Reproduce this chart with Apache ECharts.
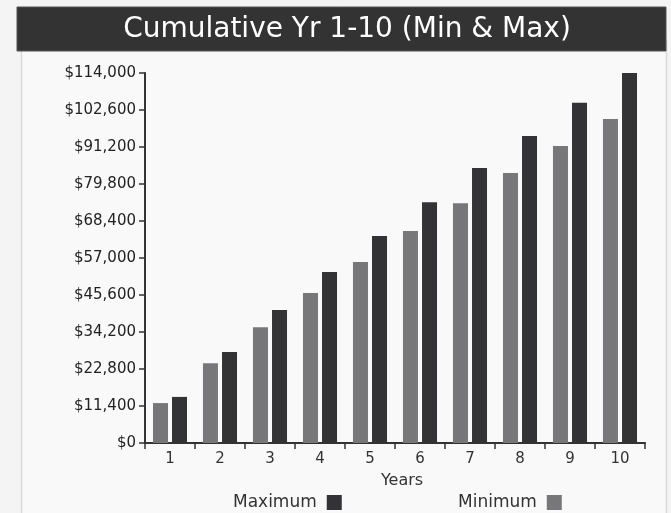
<!DOCTYPE html>
<html>
<head>
<meta charset="utf-8">
<script src="https://cdn.jsdelivr.net/npm/echarts@6/dist/echarts.min.js"></script>
<style>
  html, body { margin: 0; padding: 0; background: #f4f4f4; }
  #chart { width: 671px; height: 513px; }
</style>
</head>
<body>
<div id="chart"></div>
<script>
// Cumulative earnings per year, lower and upper bound
const years = ['1', '2', '3', '4', '5', '6', '7', '8', '9', '10'];
const minimumValues = [12300, 24600, 35700, 46200, 55800, 65300, 73900, 83200, 91500, 99800];
const maximumValues = [14200, 28000, 41000, 52700, 63800, 74200, 84700, 94600, 104800, 114000];
const yTickValues = [0, 11400, 22800, 34200, 45600, 57000, 68400, 79800, 91200, 102600, 114000];

const FONT = 'DejaVu Sans';
const money = v => '$' + v.toLocaleString('en-US');

const chart = echarts.init(document.getElementById('chart'), null, { renderer: 'canvas' });

const legendText = { fontSize: 17, color: '#333', fontFamily: FONT, padding: [0, 5, 0, 0] };

chart.setOption({
  backgroundColor: '#f4f4f4',
  animation: false,
  textStyle: { fontFamily: FONT },
  graphic: [
    { type: 'rect', shape: { x: 21.5, y: 40, width: 645, height: 480 },
      style: { fill: '#f9f9f9', stroke: '#dadada', lineWidth: 1.5 }, z: -10 },
    { type: 'rect', shape: { x: 17, y: 7, width: 649, height: 44 },
      style: { fill: '#333333', stroke: '#555', lineWidth: 1 }, z: -5 }
  ],
  title: {
    text: 'Cumulative Yr 1-10 (Min & Max)',
    left: 342, top: 11, textAlign: 'center',
    textStyle: { color: '#ffffff', fontSize: 28, fontWeight: 'normal', fontFamily: FONT }
  },
  legend: [
    { data: ['Maximum'], left: 228, top: 489, align: 'right', itemWidth: 15, itemHeight: 15,
      icon: 'rect', textStyle: legendText },
    { data: ['Minimum'], left: 453, top: 489, align: 'right', itemWidth: 15, itemHeight: 15,
      icon: 'rect', textStyle: legendText }
  ],
  grid: { left: 145, right: 26, top: 73, bottom: 70, containLabel: false },
  xAxis: {
    type: 'category',
    data: years,
    name: 'Years',
    nameLocation: 'middle',
    nameGap: 30,
    nameTextStyle: { fontSize: 16, color: '#333', fontFamily: FONT, padding: [0, 0, 0, 14] },
    axisLine: { lineStyle: { color: '#333', width: 2 } },
    axisTick: { show: true, alignWithLabel: false, length: 6, lineStyle: { color: '#333', width: 1.5 } },
    axisLabel: { fontSize: 15, color: '#333', margin: 9, fontFamily: FONT }
  },
  yAxis: {
    type: 'value',
    min: 0,
    max: yTickValues[yTickValues.length - 1],
    interval: yTickValues[1] - yTickValues[0],
    splitLine: { show: false },
    axisLine: { show: true, lineStyle: { color: '#333', width: 2 } },
    axisTick: { show: true, length: 6, lineStyle: { color: '#333', width: 1.5 } },
    axisLabel: { fontSize: 15, color: '#222', margin: 9, fontFamily: FONT, formatter: money }
  },
  series: [
    { name: 'Minimum', type: 'bar', data: minimumValues, barWidth: 15, barGap: '27%',
      itemStyle: { color: '#777779' } },
    { name: 'Maximum', type: 'bar', data: maximumValues, barWidth: 15, barGap: '27%',
      itemStyle: { color: '#333335' } }
  ]
});
</script>
</body>
</html>
